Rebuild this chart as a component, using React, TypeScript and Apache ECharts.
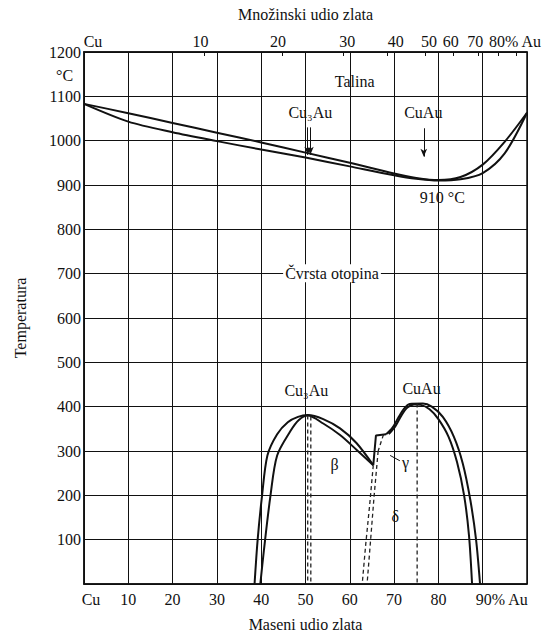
import React, { useEffect, useRef } from 'react';
import * as echarts from 'echarts';

// ---- data (mass % Au, temperature °C) ----
const massLabels: Record<number, string> = { 0: 'Cu', 10: '10', 20: '20', 30: '30', 40: '40', 50: '50', 60: '60', 70: '70', 80: '80', 90: '90% Au', 100: '' };
const moleTickPositions = [27.1, 44.8, 58.5, 68.4, 77.0, 83.3, 88.9, 93.5, 97.5];
const moleLabelPositions = [0, 26.3, 43.8, 59.4, 70.4, 77.9, 82.8, 88.3, 93.0];
const moleLabels = ['Cu', '10', '20', '30', '40', '50', '60', '70', '80% Au'];

const liquidus = [[0, 1083], [10, 1062], [20, 1040], [30, 1018], [40, 996], [50, 973], [60, 950], [70, 926], [75, 916], [80, 911], [85, 918], [90, 946], [95, 998], [100, 1063]];
const solidus = [[0, 1083], [10, 1043], [20, 1019], [30, 999], [40, 980], [50, 962], [60, 942], [70, 922], [75, 914], [80, 910], [85, 913], [90, 927], [95, 972], [100, 1063]];

const cu3auOuter = [[38.5, 0], [39.2, 100], [40.2, 200], [41.4, 290], [43.6, 338], [46, 365], [48.3, 377], [50.5, 381], [54, 372], [57.8, 351], [61.5, 318], [65.3, 268]];
const cu3auInner = [[39.8, 0], [40.6, 75], [42.1, 200], [43.6, 290], [46.6, 345], [48.5, 370], [50.5, 380], [54, 362], [57.8, 336], [61.5, 303], [65.3, 268]];

const cuauShelf = [[65.3, 268], [65.9, 335], [68.2, 338]];
const cuauOuter = [[68.2, 338], [69.6, 352], [71, 376], [72.3, 396], [73.5, 406], [76.5, 407], [78.5, 400], [81, 377], [83.5, 332], [85.5, 272], [87.2, 190], [88.5, 100], [89.4, 0]];
const cuauInner = [[68.8, 338], [70.3, 356], [71.7, 381], [73, 398], [74.5, 405], [76, 404], [78, 394], [80, 372], [82.3, 332], [84.2, 275], [85.8, 200], [86.9, 110], [87.6, 0]];

const dashA = [[65.3, 268], [64.5, 180], [63.6, 90], [62.8, 0]];
const dashB = [[66.4, 300], [65.5, 200], [64.7, 100], [63.9, 0]];
const dashC = [[67.6, 337], [66.4, 300]];
const dashCu3Au1 = [[50.5, 380], [50.5, 0]];
const dashCu3Au2 = [[51.2, 378], [51.2, 0]];
const dashCuAu = [[75.2, 407], [75.2, 0]];
const gammaLeader = [[69.1, 290], [71.3, 278]];

const arrowCu3Au1 = [[50.5, 1030], [50.5, 968]];
const arrowCu3Au2 = [[51.1, 1030], [51.1, 968]];
const arrowCuAu = [[76.7, 1028], [76.7, 964]];

const textLabels = [
  { name: 'Talina', pos: [61.2, 1133] },
  { name: 'Cu₃Au', pos: [51.2, 1062] },
  { name: 'CuAu', pos: [76.7, 1062] },
  { name: '910 °C', pos: [81.0, 870] },
  { name: 'Čvrsta otopina', pos: [56.1, 700], boxed: true },
  { name: 'Cu₃Au', pos: [50.3, 435] },
  { name: 'CuAu', pos: [76.3, 439] },
  { name: 'β', pos: [56.7, 268] },
  { name: 'γ', pos: [72.7, 272] },
  { name: 'δ', pos: [70.4, 152] },
];

const FONT = '"Liberation Serif", "DejaVu Serif", serif';

export default function App() {
  const ref = useRef<HTMLDivElement>(null);
  useEffect(() => {
    if (!ref.current) return;
    const chart = echarts.init(ref.current, undefined, { renderer: 'svg' });
    const solid = (data: number[][], smooth: number | boolean = 0.3) => ({
      type: 'line', data, smooth, symbol: 'none', silent: true,
      lineStyle: { color: '#111', width: 2 },
    });
    const dashed = (data: number[][]) => ({
      type: 'line', data, symbol: 'none', silent: true,
      lineStyle: { color: '#222', width: 1.3, type: [4, 3] },
    });
    const thin = (data: number[][]) => ({
      type: 'line', data, symbol: 'none', silent: true,
      lineStyle: { color: '#111', width: 1 },
    });
    const arrowLine = (d: number[][]) => [{ coord: d[0] }, { coord: d[1] }];
    const option: any = {
      animation: false,
      textStyle: { fontFamily: FONT, color: '#111' },
      grid: { left: 84, right: 23, top: 52, bottom: 47, show: true, borderColor: '#111', borderWidth: 1.5, containLabel: false },
      xAxis: [
        {
          type: 'value', position: 'bottom', min: 0, max: 100, interval: 10,
          name: 'Maseni udio zlata', nameLocation: 'middle', nameGap: 32,
          nameTextStyle: { fontSize: 16, fontFamily: FONT, color: '#111' },
          axisLine: { show: true, lineStyle: { color: '#111', width: 1.5 } },
          axisTick: { show: false },
          splitLine: { show: true, lineStyle: { color: '#111', width: 1 } },
          axisLabel: {
            margin: 7, fontSize: 16, fontFamily: FONT, color: '#111',
            formatter: (v: number) => {
              const t = massLabels[Math.round(v)] ?? '';
              if (t === 'Cu') return '{cu|Cu}';
              if (t === '90% Au') return '{au|90% Au}';
              return t;
            },
            rich: {
              cu: { padding: [0, 0, 0, 14], fontSize: 16, fontFamily: FONT, color: '#111' },
              au: { padding: [0, 0, 0, 38], fontSize: 16, fontFamily: FONT, color: '#111' },
            },
          },
        },
        {
          type: 'value', position: 'top', min: 0, max: 100,
          name: 'Množinski udio zlata', nameLocation: 'middle', nameGap: 30,
          nameTextStyle: { fontSize: 16, fontFamily: FONT, color: '#111' },
          axisLine: { show: true, lineStyle: { color: '#111', width: 1.5 } },
          axisTick: { show: true, inside: true, length: 4, customValues: moleTickPositions, lineStyle: { color: '#111', width: 1 } },
          splitLine: { show: false },
          axisLabel: {
            margin: 3, fontSize: 16, fontFamily: FONT, color: '#111',
            customValues: moleLabelPositions,
            formatter: (v: number) => {
              const i = moleLabelPositions.findIndex((p) => Math.abs(p - v) < 0.01);
              const t = i >= 0 ? moleLabels[i] : '';
              if (t === 'Cu') return '{cu|Cu}';
              if (t === '80% Au') return '{au|80% Au}';
              return t;
            },
            rich: {
              cu: { padding: [0, 0, 0, 18], fontSize: 16, fontFamily: FONT, color: '#111' },
              au: { padding: [0, 0, 0, 38], fontSize: 16, fontFamily: FONT, color: '#111' },
            },
          },
        },
      ],
      yAxis: {
        type: 'value', min: 0, max: 1200, interval: 100,
        name: 'Temperatura', nameLocation: 'middle', nameGap: 56, nameRotate: 90,
        nameTextStyle: { fontSize: 16, fontFamily: FONT, color: '#111' },
        axisLine: { show: true, lineStyle: { color: '#111', width: 1.5 } },
        axisTick: { show: false },
        splitLine: { show: true, lineStyle: { color: '#111', width: 1 } },
        axisLabel: {
          margin: 3, fontSize: 16, fontFamily: FONT, color: '#111',
          formatter: (v: number) => (v === 0 ? '' : String(v)),
        },
      },
      graphic: [
        { type: 'text', left: 56, top: 67, style: { text: '°C', fontSize: 16, fontFamily: FONT, fill: '#111' } },
      ],
      series: [
        solid(liquidus),
        solid(solidus),
        solid(cu3auOuter),
        solid(cu3auInner),
        solid(cuauShelf, false),
        solid(cuauOuter),
        solid(cuauInner),
        dashed(dashA),
        dashed(dashB),
        dashed(dashC),
        dashed(dashCu3Au1),
        dashed(dashCu3Au2),
        dashed(dashCuAu),
        thin(gammaLeader),
        {
          type: 'line', data: [], symbol: 'none', silent: true,
          markLine: {
            silent: true, symbol: ['none', 'arrow'], symbolSize: [5, 8],
            lineStyle: { color: '#111', width: 1, type: 'solid' },
            label: { show: false },
            data: [arrowLine(arrowCu3Au1), arrowLine(arrowCu3Au2), arrowLine(arrowCuAu)],
          },
        },
        {
          type: 'scatter', symbolSize: 1, silent: true, z: 5,
          itemStyle: { color: 'rgba(0,0,0,0)' },
          data: textLabels.map((t) => ({
            value: t.pos, name: t.name,
            label: t.boxed ? { backgroundColor: '#fff', padding: [1, 2] } : undefined,
          })),
          label: {
            show: true, position: [0, 0], align: 'center', verticalAlign: 'middle', formatter: '{b}',
            fontSize: 16, fontFamily: FONT, color: '#111', opacity: 1,
          },
        },
      ],
    };
    chart.setOption(option);
    return () => chart.dispose();
  }, []);
  return <div ref={ref} style={{ position: 'fixed', left: 0, top: 0, width: 550, height: 637, background: '#fff' }} />;
}
